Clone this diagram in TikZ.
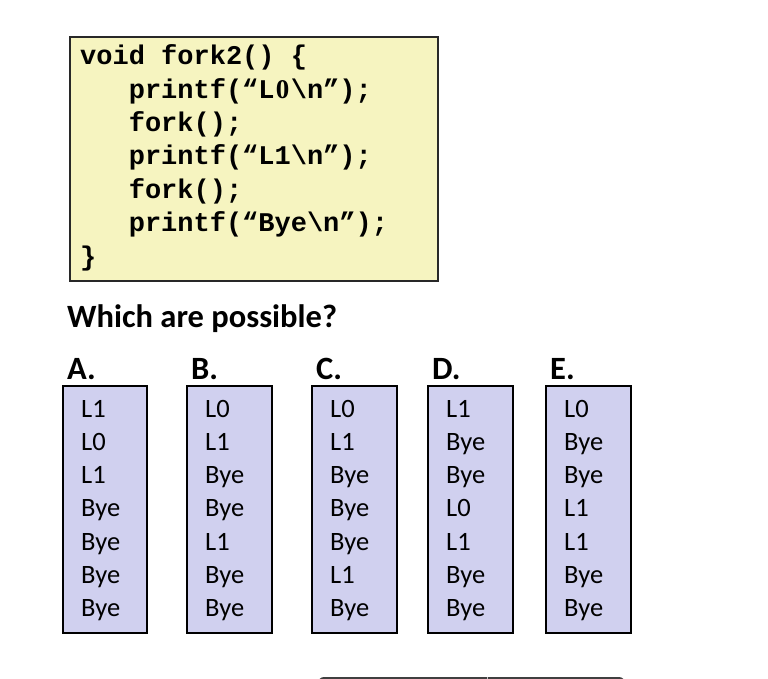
\documentclass[tikz,border=0pt]{standalone}
\usepackage{fontspec}
\setmainfont{Carlito}
\newfontfamily\codefont{Liberation Mono}
\newfontfamily\zerofont{Liberation Serif}
\newcommand{\plainzero}{\makebox[0.6em]{\zerofont\bfseries 0}}
\definecolor{codebg}{RGB}{246,244,192}
\definecolor{boxbg}{RGB}{208,208,239}
\definecolor{edge}{RGB}{40,40,40}
\definecolor{darkbar}{RGB}{64,64,64}
\begin{document}
\begin{tikzpicture}[x=1pt,y=-1pt,
  codeline/.style={anchor=base west,inner sep=0pt,font=\codefont\bfseries\fontsize{27}{30}\selectfont},
  title/.style={anchor=base west,inner sep=0pt,font=\bfseries\fontsize{32.5}{36}\selectfont},
  outline/.style={anchor=base west,inner sep=0pt,font=\fontsize{26.5}{30}\selectfont},
  choicebox/.style={draw=black,line width=2pt,fill=boxbg}]
\useasboundingbox (0,0) rectangle (768,679);
% code box
\draw[fill=codebg,draw=edge,line width=1.5pt] (70,37) rectangle (438,281);
\node[codeline] (c1) at (80,65) {void fork2() \{};
\node[codeline] (c2) at (128.6,98.3) {printf(“L\plainzero\textbackslash n”);};
\node[codeline] (c3) at (128.6,131.6) {fork();};
\node[codeline] (c4) at (128.6,165) {printf(“L1\textbackslash n”);};
\node[codeline] (c5) at (128.6,198.3) {fork();};
\node[codeline] (c6) at (128.6,231.6) {printf(“Bye\textbackslash n”);};
\node[codeline] (c7) at (80,265) {\}};
% question
\node[title] (q) at (67,327) {Which are possible?};
% choices
\foreach \lab/\xl/\xr/\items [count=\i] in {
  A./63/147/{L1,L0,L1,Bye,Bye,Bye,Bye},
  B./187/272/{L0,L1,Bye,Bye,L1,Bye,Bye},
  C./312/397/{L0,L1,Bye,Bye,Bye,L1,Bye},
  D./428/513/{L1,Bye,Bye,L0,L1,Bye,Bye},
  E./546/631/{L0,Bye,Bye,L1,L1,Bye,Bye}} {
  \node[title] (lab\i) at (\xl+4,379) {\lab};
  \draw[choicebox] (\xl,386) rectangle (\xr,633);
  \foreach \t [count=\j] in \items {
    \node[outline] (t\i-\j) at (\xl+18,417+33.3*\j-33.3) {\t};
  }
}
% partially visible bar at bottom
\fill[darkbar,rounded corners=6pt] (318,677) rectangle (625,700);
\draw[white!70!darkbar,line width=0.6pt] (487,677) -- (487,679);
\end{tikzpicture}
\end{document}
